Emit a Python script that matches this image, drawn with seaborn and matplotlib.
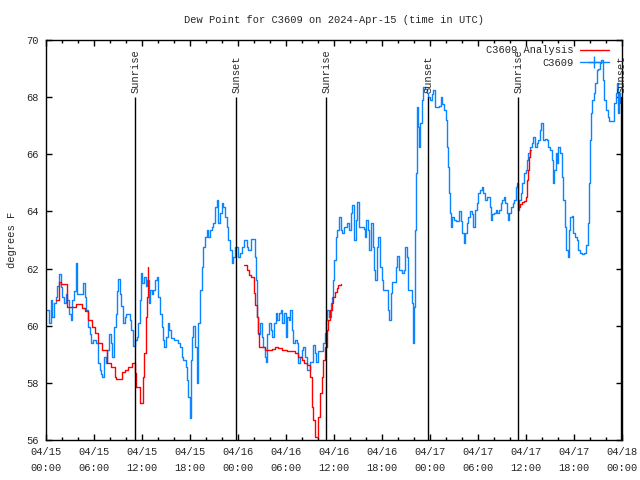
import pandas as pd
import matplotlib.pyplot as plt
import matplotlib.dates as mdates
from matplotlib.lines import Line2D
from matplotlib.ticker import MultipleLocator
import seaborn as sns

# time axis starts 2024-04-15 00:00 UTC, values given as hours from start
start = pd.Timestamp("2024-04-15 00:00")

# C3609 observed dew point (deg F)
obs_hours = [
    0.08, 0.38, 0.58, 0.79, 1.0, 1.21, 1.42, 1.63, 1.83, 2.04, 2.25, 2.46, 2.67, 2.88,
    3.08, 3.29, 3.5, 3.79, 3.92, 4.13, 4.42, 4.63, 4.83, 5.04, 5.25, 5.46, 5.67, 5.88,
    6.08, 6.29, 6.5, 6.71, 6.92, 7.04, 7.25, 7.46, 7.67, 7.88, 8.08, 8.29, 8.5, 8.71,
    8.92, 9.04, 9.25, 9.42, 9.63, 9.83, 10.04, 10.25, 10.46, 10.67, 10.92, 11.13, 11.33,
    11.54, 11.75, 11.88, 12.04, 12.25, 12.46, 12.67, 12.83, 13.0, 13.21, 13.42, 13.63,
    13.83, 14.04, 14.25, 14.46, 14.67, 14.79, 15.0, 15.21, 15.42, 15.63, 16.04, 16.46,
    16.75, 16.96, 17.17, 17.46, 17.58, 17.79, 18.0, 18.13, 18.25, 18.42, 18.63, 18.83,
    19.04, 19.25, 19.46, 19.67, 19.88, 20.08, 20.29, 20.5, 20.71, 20.92, 21.13, 21.33,
    21.54, 21.75, 21.96, 22.17, 22.38, 22.58, 22.79, 23.0, 23.21, 23.42, 23.63, 23.83,
    24.04, 24.25, 24.46, 24.79, 25.08, 25.29, 25.58, 25.92, 26.13, 26.25, 26.38, 26.54,
    26.75, 26.96, 27.17, 27.38, 27.5, 27.67, 27.88, 28.08, 28.29, 28.5, 28.71, 28.92,
    29.13, 29.33, 29.54, 29.75, 29.96, 30.17, 30.38, 30.54, 30.71, 30.92, 31.13, 31.33,
    31.54, 31.75, 31.96, 32.17, 32.38, 32.67, 33.0, 33.29, 33.42, 33.63, 33.75, 34.04,
    34.46, 34.67, 34.88, 35.0, 35.17, 35.38, 35.58, 35.79, 35.92, 36.04, 36.21, 36.42,
    36.63, 36.83, 37.04, 37.25, 37.58, 37.88, 38.08, 38.29, 38.5, 38.71, 38.92, 39.13,
    39.46, 39.75, 39.88, 40.0, 40.21, 40.42, 40.63, 40.83, 41.0, 41.17, 41.33, 41.54,
    41.75, 41.96, 42.17, 42.58, 42.79, 42.92, 43.08, 43.29, 43.5, 43.71, 43.88, 44.13,
    44.33, 44.54, 44.75, 44.92, 45.08, 45.21, 45.5, 45.71, 45.88, 46.0, 46.13, 46.25,
    46.38, 46.5, 46.63, 46.75, 46.96, 47.17, 47.38, 47.58, 47.79, 48.0, 48.21, 48.42,
    48.63, 48.92, 49.13, 49.33, 49.54, 49.75, 49.96, 50.08, 50.21, 50.38, 50.5, 50.63,
    50.79, 51.0, 51.21, 51.42, 51.63, 51.83, 52.04, 52.21, 52.38, 52.58, 52.79, 53.0,
    53.21, 53.42, 53.63, 53.83, 54.04, 54.25, 54.46, 54.67, 54.88, 55.08, 55.29, 55.5,
    55.63, 55.79, 56.0, 56.21, 56.42, 56.63, 56.83, 57.04, 57.25, 57.42, 57.58, 57.75,
    57.92, 58.13, 58.33, 58.54, 58.75, 58.88, 59.04, 59.17, 59.33, 59.54, 59.75, 59.96,
    60.17, 60.29, 60.5, 60.71, 60.92, 61.13, 61.33, 61.54, 61.75, 61.88, 62.08, 62.25,
    62.42, 62.58, 62.79, 63.0, 63.21, 63.42, 63.54, 63.71, 63.88, 64.04, 64.25, 64.46,
    64.67, 64.88, 65.04, 65.21, 65.38, 65.54, 65.71, 65.88, 66.13, 66.38, 66.54, 66.75,
    67.04, 67.25, 67.46, 67.71, 67.83, 67.96, 68.13, 68.29, 68.46, 68.63, 68.83, 69.04,
    69.25, 69.42, 69.58, 69.79, 70.0, 70.21, 70.42, 70.63, 70.83, 71.0, 71.21, 71.38,
    71.5, 71.63, 71.75,
]
obs_dewpt = [
    60.55, 60.1, 60.9, 60.3, 60.8, 61.0, 61.4, 61.8, 61.35, 61.0, 60.8, 61.1, 60.9, 60.4,
    60.2, 60.9, 61.2, 62.2, 61.1, 61.1, 61.1, 61.5, 61.0, 60.55, 59.96, 59.7, 59.4, 59.5,
    59.5, 59.4, 58.7, 58.45, 58.3, 58.2, 58.9, 58.7, 59.15, 59.7, 59.4, 58.9, 59.96, 60.4,
    61.2, 61.65, 61.1, 60.7, 60.1, 60.3, 60.4, 60.4, 60.2, 59.85, 59.3, 59.5, 59.6,
    60.1, 60.9, 61.85, 61.5, 61.7, 61.4, 61.6, 60.8, 61.25, 61.1, 61.25, 61.6,
    61.7, 61.0, 60.4, 59.96, 59.5, 59.27, 59.6, 60.1, 59.85, 59.56, 59.5, 59.4,
    59.27, 58.9, 58.8, 58.57, 58.1, 57.5, 56.76, 58.8, 59.6, 60.0, 59.27, 57.98,
    60.1, 61.25, 62.07, 62.77, 63.1, 63.35, 63.1, 63.35, 63.47, 63.6, 64.17, 64.4,
    63.6, 63.93, 64.28, 64.17, 63.8, 63.47, 63.0, 62.65, 62.18, 62.4, 62.77, 62.77,
    62.4, 62.53, 62.77, 63.0, 62.77, 62.65, 63.02, 63.02, 62.4, 61.6, 60.3, 59.7,
    60.1, 59.6, 59.27, 58.9, 58.74, 59.7, 60.1, 59.85, 59.6, 60.1, 60.43, 60.2,
    60.43, 60.55, 60.1, 60.43, 59.6, 60.3, 60.2, 60.55, 59.85, 59.4, 59.5, 59.4,
    58.68, 58.9, 59.15, 59.27, 58.9, 58.45, 58.74, 58.74, 59.33, 59.03, 58.74, 59.1,
    59.1, 59.38, 59.73, 60.2, 60.55, 60.32, 60.78, 61.0, 61.6, 62.3, 63.1, 63.35,
    63.8, 63.35, 63.23, 63.47, 63.58, 63.35, 63.93, 64.22, 63.0, 63.7, 64.34, 63.47,
    63.47, 63.4, 63.1, 63.7, 63.35, 62.65, 63.58, 62.77, 61.95, 61.6, 62.77, 63.1,
    62.07, 61.6, 61.25, 61.25, 60.55, 60.2, 61.13, 61.54, 61.54, 62.07, 62.45, 61.95,
    61.95, 61.83, 61.95, 62.77, 62.4, 61.25, 61.25, 60.78, 59.38, 60.67, 63.35, 65.33,
    67.67, 66.97, 66.27, 67.08, 67.9, 68.37, 68.3, 68.13, 68.0, 67.9, 68.1, 68.25,
    67.67, 67.67, 67.7, 68.02, 67.75, 67.55, 67.2, 66.27, 65.57, 64.63, 63.93, 63.47,
    63.82, 63.7, 63.65, 63.65, 64.0, 63.65, 63.23, 62.88, 63.23, 63.58, 63.82, 64.0,
    63.9, 63.47, 64.05, 64.28, 64.63, 64.75, 64.87, 64.63, 64.4, 64.52, 64.5, 64.17,
    63.7, 63.9, 63.93, 64.05, 63.95, 64.05, 64.28, 64.4, 64.52, 64.28, 63.93, 63.7,
    63.93, 64.17, 64.28, 64.4, 64.87, 64.98, 64.05, 64.4, 64.63, 64.98, 65.33, 65.45,
    65.8, 66.03, 66.27, 66.38, 66.62, 66.27, 66.38, 66.5, 66.85, 67.08, 66.5, 66.5,
    66.55, 66.5, 66.27, 66.15, 65.8, 64.98, 65.45, 66.03, 65.7, 66.27, 66.03, 65.22,
    64.4, 63.47, 62.65, 62.42, 63.35, 63.82, 63.85, 63.23, 63.12, 63.0, 62.65, 62.53,
    62.5, 62.53, 62.82, 63.58, 64.98, 66.5, 67.43, 67.9, 68.13, 68.48, 68.95, 68.98,
    69.18, 69.3, 68.6, 67.9, 67.55, 67.32, 67.15, 67.15, 67.15, 67.78, 68.13, 68.48,
    67.43, 68.13, 67.8,
]

# C3609 Analysis, three separate runs
ana1_hours = [1.25, 1.6, 1.9, 2.66, 3.4, 3.8, 4.46, 4.9, 5.3, 5.7, 6.1, 6.5, 6.96, 7.6,
              8.1, 8.6, 8.8, 9.5, 9.9, 10.3, 10.8, 11.1, 11.3, 11.7, 11.96, 12.1, 12.25,
              12.5, 12.6, 12.8]
ana1_dewpt = [60.9, 61.54, 61.45, 60.67, 60.67, 60.77, 60.62, 60.5, 60.2, 59.97, 59.73,
              59.38, 59.15, 58.68, 58.57, 58.2, 58.15, 58.38, 58.45, 58.57, 58.68, 58.33,
              57.87, 57.28, 57.28, 58.2, 59.03, 60.3, 61.0, 62.07]
ana2_hours = [24.79, 25.09, 25.38, 25.63, 25.91, 26.04, 26.16, 26.34, 26.46, 26.63, 26.96,
              27.38, 27.79, 28.21, 28.63, 29.04, 29.46, 30.09, 30.71, 31.13, 31.54, 31.96,
              32.29, 32.59, 33.0, 33.21, 33.41, 33.63, 33.91, 34.04, 34.25, 34.46, 34.66,
              34.88, 35.09, 35.29, 35.5, 35.71, 35.91, 36.13, 36.34, 36.54, 36.84]
ana2_dewpt = [62.12, 61.95, 61.78, 61.7, 61.7, 61.13, 60.72, 60.3, 59.73, 59.27, 59.27,
              59.15, 59.15, 59.2, 59.27, 59.22, 59.15, 59.12, 59.1, 59.03, 58.9, 58.8,
              58.68, 58.63, 58.22, 57.17, 56.7, 56.12, 56.12, 56.82, 57.63, 58.22, 58.8,
              59.27, 59.85, 60.2, 60.55, 60.78, 61.0, 61.19, 61.31, 61.43, 61.46]
ana3_hours = [59.04, 59.25, 59.46, 59.79, 59.96, 60.09, 60.21, 60.34, 60.5, 60.63]
ana3_dewpt = [64.17, 64.25, 64.34, 64.37, 64.52, 65.1, 65.45, 65.92, 66.15, 66.15]

sun_hours = [11.17, 23.8, 35.04, 47.8, 59.04, 71.9]
sun_labels = ["Sunrise", "Sunset", "Sunrise", "Sunset", "Sunrise", "Sunset"]

obs = pd.DataFrame({"time": start + pd.to_timedelta(obs_hours, unit="h"),
                    "dewpt": obs_dewpt})
ana_parts = []
for i, (h, v) in enumerate([(ana1_hours, ana1_dewpt), (ana2_hours, ana2_dewpt),
                            (ana3_hours, ana3_dewpt)]):
    ana_parts.append(pd.DataFrame({"time": start + pd.to_timedelta(h, unit="h"),
                                   "dewpt": v, "seg": i}))
ana = pd.concat(ana_parts, ignore_index=True)
sun_times = start + pd.to_timedelta(sun_hours, unit="h")

sns.set_style("ticks")
plt.rcParams["font.family"] = ["Liberation Mono", "DejaVu Sans Mono"]
FS = 7.5
blue = "#0a84ff"

fig = plt.figure(figsize=(6.4, 4.8), dpi=100)
ax = fig.add_axes([46 / 640, 40 / 480, 576 / 640, 400 / 480])

sns.lineplot(data=obs, x="time", y="dewpt", ax=ax, color=blue, lw=1.0,
             drawstyle="steps-post", estimator=None, legend=False)
sns.lineplot(data=ana, x="time", y="dewpt", units="seg", estimator=None, ax=ax,
             color="red", lw=1.0, drawstyle="steps-post", legend=False)

ax.vlines(sun_times, 56, 68, color="black", lw=1.0)
for t, lab in zip(sun_times, sun_labels):
    ax.text(t, 68.15, lab, rotation=90, ha="center", va="bottom", fontsize=FS)

ax.set_xlim(start, start + pd.Timedelta(hours=72))
ax.set_ylim(56, 70)
ax.xaxis.set_major_locator(mdates.HourLocator(byhour=[0, 6, 12, 18]))
ax.xaxis.set_minor_locator(mdates.HourLocator(byhour=range(0, 24, 2)))
ax.xaxis.set_major_formatter(mdates.DateFormatter("%m/%d\n%H:%M"))
ax.yaxis.set_major_locator(MultipleLocator(2))
ax.tick_params(which="both", direction="in", top=True, right=True, labelsize=FS,
               color="black", width=1.0)
ax.tick_params(which="major", length=4, pad=5)
ax.tick_params(which="minor", length=2)
for sp in ax.spines.values():
    sp.set_visible(True)
    sp.set_color("black")
    sp.set_linewidth(1.0)

ax.set_xlabel("")
ax.set_ylabel("degrees F", fontsize=FS)
ax.yaxis.set_label_coords(-0.05, 0.5)
ax.set_title("Dew Point for C3609 on 2024-Apr-15 (time in UTC)", fontsize=FS, pad=12)

handles = [Line2D([], [], color="red", lw=1.0),
           Line2D([], [], color=blue, lw=1.0, marker="+", markersize=9)]
ax.legend(handles, ["C3609 Analysis", "C3609"], loc="upper right",
          bbox_to_anchor=(0.986, 1.0), frameon=False, markerfirst=False, fontsize=FS,
          handlelength=2.8, handletextpad=0.6, labelspacing=0.25, borderaxespad=0.1)

fig.canvas.draw()
for lab in ax.get_xticklabels():
    lab.set_linespacing(1.75)

fig.savefig("out.png", dpi=100)
